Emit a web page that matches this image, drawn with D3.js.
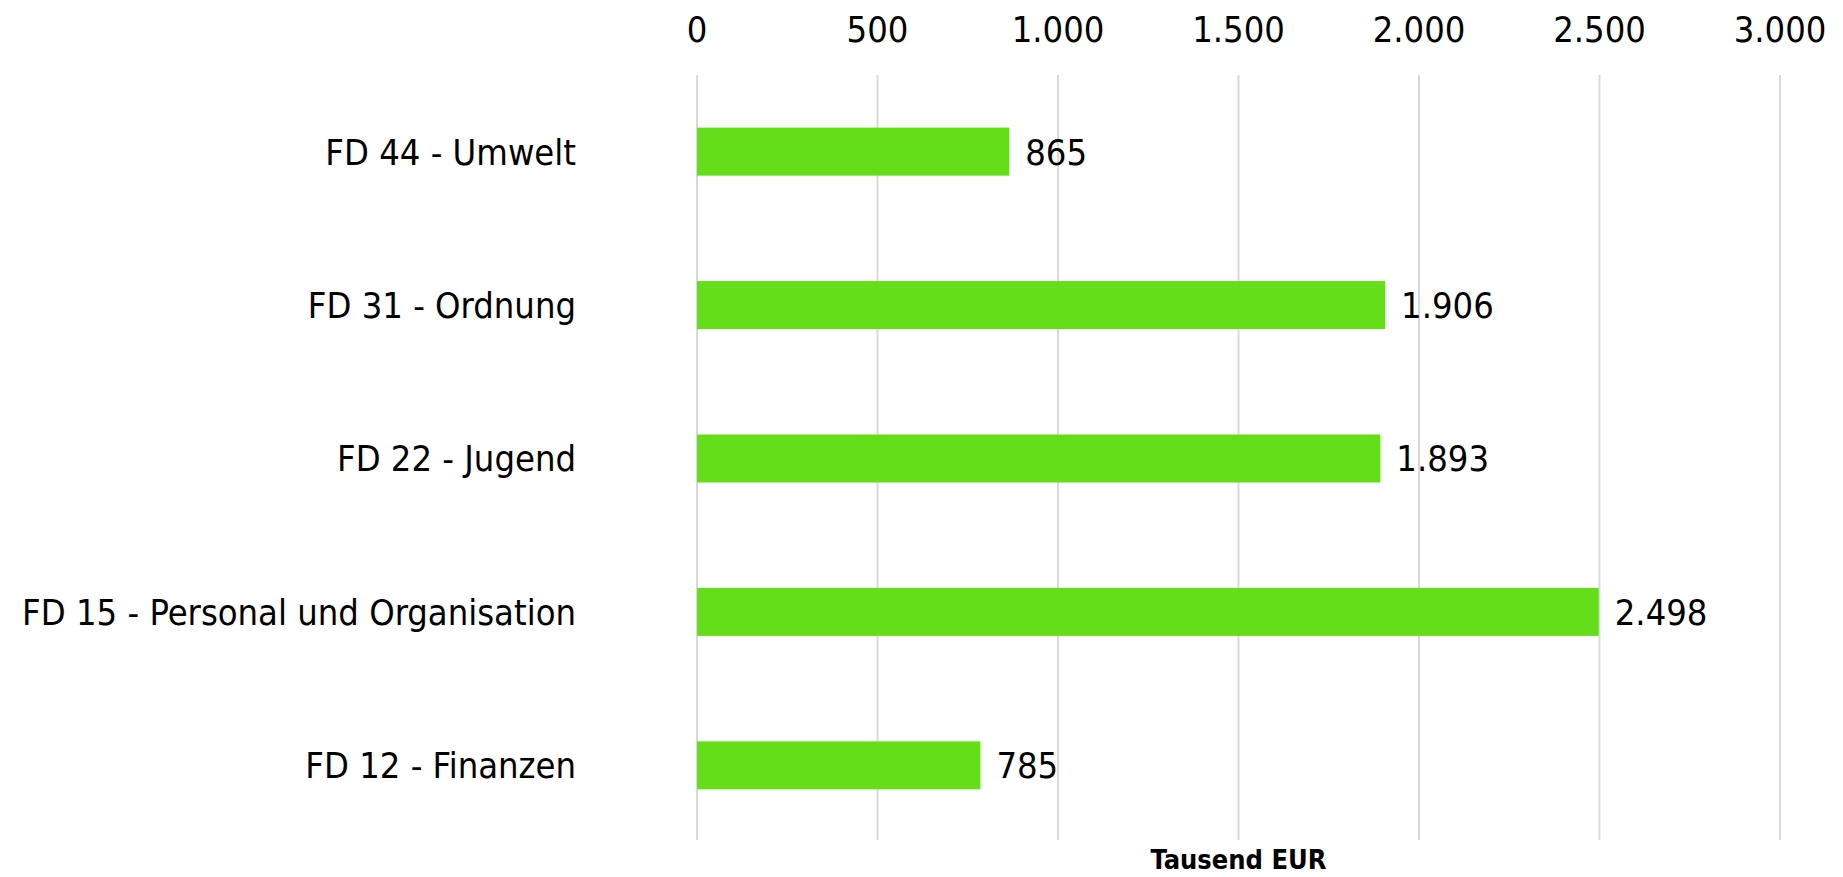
<!DOCTYPE html>
<html>
<head>
<meta charset="utf-8">
<script src="https://cdn.jsdelivr.net/npm/d3@7"></script>
<style>
  body { margin: 0; background: #fff; }
  text { font-family: "Liberation Sans Narrow", "DejaVu Sans Condensed", sans-serif; fill: #000; }
</style>
</head>
<body>
<div id="chart"></div>
<script>
// data
const categories = ["FD 44 - Umwelt", "FD 31 - Ordnung", "FD 22 - Jugend", "FD 15 - Personal und Organisation", "FD 12 - Finanzen"];
const values = [865, 1906, 1893, 2498, 785];
const xTicks = [0, 500, 1000, 1500, 2000, 2500, 3000];
const axisTitle = "Tausend EUR";

const width = 1843, height = 877;
const margin = { top: 75, right: 63, bottom: 35, left: 697 };

const svg = d3.select("#chart").append("svg")
    .attr("width", width)
    .attr("height", height);

const x = d3.scaleLinear()
    .domain([0, 3000])
    .range([margin.left, width - margin.right]);

const y = d3.scaleBand()
    .domain(categories)
    .range([margin.top, height - margin.bottom])
    .paddingInner(0.687)
    .paddingOuter(0.343);

// German number format: dot as thousands separator
const fmt = d3.formatLocale({ decimal: ",", thousands: ".", grouping: [3], currency: ["", " €"] }).format(",d");

// gridlines
svg.append("g")
    .selectAll("line")
    .data(xTicks)
    .enter().append("line")
    .attr("x1", d => x(d))
    .attr("x2", d => x(d))
    .attr("y1", margin.top)
    .attr("y2", height - 37)
    .attr("stroke", "#d9d9d9")
    .attr("stroke-width", 2);

// tick labels on top
svg.append("g")
    .selectAll("text")
    .data(xTicks)
    .enter().append("text")
    .attr("x", d => x(d))
    .attr("y", 42)
    .attr("text-anchor", "middle")
    .style("font-size", "36px")
    .text(d => fmt(d));

// bars
svg.append("g")
    .selectAll("rect")
    .data(values)
    .enter().append("rect")
    .attr("x", x(0))
    .attr("y", (d, i) => y(categories[i]))
    .attr("width", d => x(d) - x(0))
    .attr("height", y.bandwidth())
    .attr("fill", "#65de1a");

// value labels
svg.append("g")
    .selectAll("text")
    .data(values)
    .enter().append("text")
    .attr("x", d => x(d) + 16)
    .attr("y", (d, i) => y(categories[i]) + y.bandwidth() / 2)
    .attr("dy", "0.36em")
    .style("font-size", "36px")
    .text(d => fmt(d));

// category labels
svg.append("g")
    .selectAll("text")
    .data(categories)
    .enter().append("text")
    .attr("x", 576)
    .attr("y", d => y(d) + y.bandwidth() / 2)
    .attr("dy", "0.36em")
    .attr("text-anchor", "end")
    .style("font-size", "36px")
    .text(d => d);

// axis title
svg.append("text")
    .attr("x", x(1500))
    .attr("y", 869)
    .attr("text-anchor", "middle")
    .style("font-size", "27px")
    .style("font-weight", "bold")
    .text(axisTitle);
</script>
</body>
</html>
